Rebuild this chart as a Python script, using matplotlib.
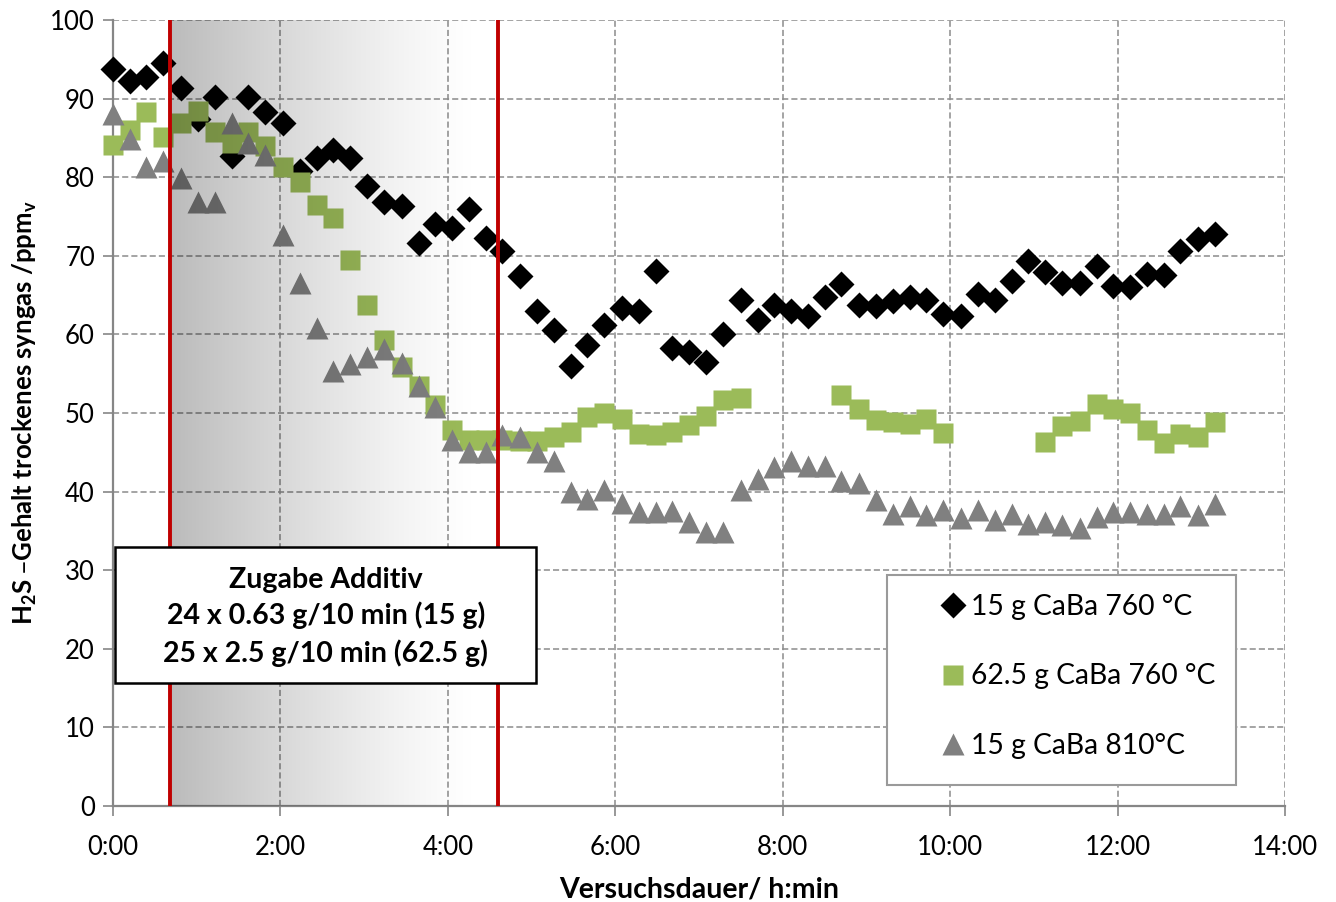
import numpy as np
import matplotlib
matplotlib.use("Agg")
import matplotlib.pyplot as plt
from matplotlib.patches import Rectangle
from matplotlib.lines import Line2D

# measurement times (min since start)
minutes = [0, 12, 24, 36, 49, 61, 73, 85, 97, 109, 122, 134, 146, 158, 170, 182,
           194, 207, 219, 231, 243, 255, 267, 279, 292, 304, 316, 328, 340, 352,
           365, 377, 389, 401, 413, 425, 437, 450, 462, 474, 486, 498, 510, 522,
           535, 547, 559, 571, 583, 595, 608, 620, 632, 644, 656, 668, 680, 693,
           705, 717, 729, 741, 753, 765, 778, 790]

# H2S in dry syngas / ppmv
caba15_760 = [93.8, 92.3, 92.7, 94.5, 91.4, 87.4, 90.2, 82.7, 90.2, 88.3,
              86.9, 80.8, 82.4, 83.5, 82.4, 78.9, 76.9, 76.3, 71.6, 74.0,
              73.6, 75.9, 72.3, 70.6, 67.4, 63.0, 60.6, 56.0, 58.6, 61.2,
              63.4, 63.0, 68.1, 58.3, 57.8, 56.5, 60.0, 64.4, 61.8, 63.7,
              63.0, 62.3, 64.7, 66.4, 63.7, 63.6, 64.3, 64.7, 64.4, 62.6,
              62.3, 65.2, 64.4, 66.8, 69.3, 68.0, 66.5, 66.5, 68.7, 66.2,
              66.0, 67.7, 67.5, 70.6, 72.1, 72.8]
caba625_760 = [84.1, 86.0, 88.3, 85.1, 86.9, 88.4, 85.8, 84.4, 85.8, 84.0,
               81.3, 79.4, 76.5, 74.8, 69.5, 63.8, 59.3, 55.9, 53.4, 51.0,
               47.9, 46.6, 46.6, 46.6, 46.5, 46.4, 47.0, 47.6, 49.5, 50.0,
               49.2, 47.3, 47.2, 47.6, 48.5, 49.6, 51.7, 51.9, None, None,
               None, None, None, 52.3, 50.5, 49.1, 48.9, 48.6, 49.2, 47.5,
               None, None, None, None, None, 46.3, 48.3, 49.0, 51.2, 50.5,
               50.0, 47.9, 46.2, 47.3, 47.0, 48.8]
caba15_810 = [88.1, 84.9, 81.3, 82.1, 79.9, 76.8, 76.9, 86.9, 84.4, 82.8,
              72.6, 66.6, 60.8, 55.3, 56.2, 57.1, 58.1, 56.4, 53.4, 50.8,
              46.6, 45.1, 45.1, 47.2, 47.0, 45.0, 43.9, 39.9, 39.1, 40.2,
              38.6, 37.4, 37.4, 37.5, 36.1, 34.9, 34.8, 40.2, 41.6, 43.1,
              43.9, 43.2, 43.3, 41.3, 41.1, 38.9, 37.2, 38.2, 37.0, 37.7,
              36.6, 37.7, 36.4, 37.1, 35.9, 36.1, 35.7, 35.4, 36.8, 37.4,
              37.4, 37.1, 37.1, 38.2, 37.0, 38.4]

labels = ["15 g CaBa 760 °C", "62.5 g CaBa 760 °C", "15 g CaBa 810°C"]
dosing_start, dosing_end = 41, 276  # min
box_lines = ["Zugabe Additiv", "24 x 0.63 g/10 min (15 g)", "25 x 2.5 g/10 min (62.5 g)"]

plt.rcParams['font.family'] = ['Lato', 'DejaVu Sans']

t = np.array(minutes) / 60.0
def arr(v):
    return np.array([np.nan if x is None else x for x in v], dtype=float)

fig = plt.figure(figsize=(13.36, 9.02), dpi=100)
ax = fig.add_axes([113/1336, 1 - 806/902, 1172/1336, 786/902])

grey = "#868686"
mk = dict(ls="none", mec="none", clip_on=False)
ax.plot(t, arr(caba15_760), marker="D", ms=13, color="black", zorder=3, **mk)
ax.plot(t, arr(caba625_760), marker="s", ms=14.5, color="#9BBB59", zorder=4, **mk)
ax.plot(t, arr(caba15_810), marker="^", ms=16, color="#808080", zorder=5, **mk)

# shaded dosing period (dark overlay fading out)
x0, x1 = dosing_start / 60, dosing_end / 60
f = np.linspace(0, 1, 256)
grad = np.zeros((2, 256, 4))
grad[..., 3] = (0.27 * np.clip(1 - f / 0.95, 0, 1) ** 1.25)[None, :]
ax.imshow(grad, extent=[x0, x1, 0, 100], aspect="auto", zorder=6, interpolation="bilinear")
for xv in (x0, x1):
    ax.axvline(xv, color="#C00000", lw=2.8, zorder=7)

ax.set_xlim(0, 14)
ax.set_ylim(0, 100)
ax.set_xticks(range(0, 15, 2))
ax.set_xticklabels([f"{h}:00" for h in range(0, 15, 2)])
ax.set_yticks(range(0, 101, 10))
ax.grid(True, color="#8c8c8c", ls=(0, (4, 2)), lw=1.1, zorder=1)
ax.set_axisbelow(True)
for s in ("top", "right"):
    ax.spines[s].set_visible(False)
for s in ("left", "bottom"):
    ax.spines[s].set_color(grey)
    ax.spines[s].set_linewidth(1.6)
ax.tick_params(axis="both", direction="out", length=7, width=1.2, color=grey,
               labelsize=18.5, pad=6)
ax.tick_params(axis="x", pad=14)

ax.set_xlabel("Versuchsdauer/ h:min", fontsize=20.5, fontweight="bold", labelpad=12)
ax.set_ylabel(r"H$_\mathregular{2}$S –Gehalt trockenes syngas /ppm$_\mathregular{v}$",
              fontsize=18.5, fontweight="bold", labelpad=8)

# annotation box
ax.add_patch(Rectangle((0.024, 15.6), 5.05 - 0.024, 33.0 - 15.6, facecolor="white",
                       edgecolor="black", lw=1.8, zorder=8))
for yv, line in zip((28.8, 24.3, 19.5), box_lines):
    ax.text(2.54, yv, line, ha="center", va="center", fontsize=20.5,
            fontweight="bold", zorder=9)

# legend with its own frame
ax.add_patch(Rectangle((0.660, 0.0267), 0.298, 0.267, transform=ax.transAxes,
                       facecolor="white", edgecolor="#9a9a9a", lw=1.5, zorder=8))
handles = [
    Line2D([], [], ls="none", marker="D", ms=13, color="black", mec="none"),
    Line2D([], [], ls="none", marker="s", ms=14.5, color="#9BBB59", mec="none"),
    Line2D([], [], ls="none", marker="^", ms=16, color="#808080", mec="none"),
]
leg = ax.legend(handles, labels, loc="upper left", bbox_to_anchor=(0.7056, 0.27),
                frameon=False, fontsize=20.3, borderpad=0, handlelength=0.9,
                handletextpad=0.2, labelspacing=1.55, borderaxespad=0)
leg.set_zorder(9)

fig.savefig("out.png", dpi=100)
